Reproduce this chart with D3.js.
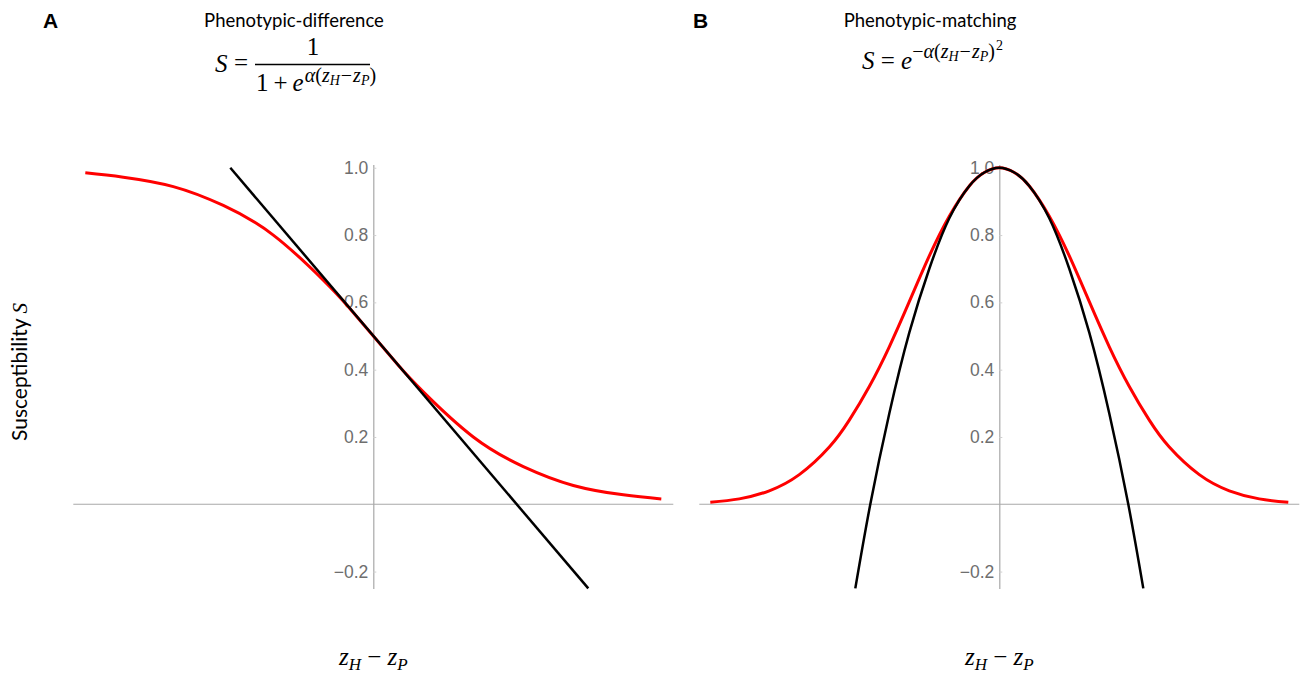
<!DOCTYPE html>
<html>
<head>
<meta charset="utf-8">
<script src="https://cdn.jsdelivr.net/npm/d3@7"></script>
<style>
  body { margin: 0; background: #fff; }
  svg { display: block; }
  .tick text { font-family: "Liberation Sans", Arial, sans-serif; }
</style>
</head>
<body>
<script>
// values (x in z_H - z_P units, S = susceptibility)
const diff_x = [-2.88, -2.5, -2.0, -1.5, -1.0, -0.5, -0.25, 0, 0.25, 0.5, 1.0, 1.5, 2.0, 2.5, 2.88];
const diff_s = [0.985, 0.972, 0.944, 0.888, 0.800, 0.666, 0.587, 0.5, 0.413, 0.334, 0.200, 0.112, 0.056, 0.028, 0.016];
const tangent_x = [-1.43, 2.15];
const tangent_s = [1.0, -0.25];

const match_x = [-2.89, -2.6, -2.3, -2.0, -1.7, -1.5, -1.3, -1.1, -0.9, -0.7, -0.5, -0.3, -0.15, 0,
                 0.15, 0.3, 0.5, 0.7, 0.9, 1.1, 1.3, 1.5, 1.7, 2.0, 2.3, 2.6, 2.89];
const match_s = [0.006, 0.016, 0.04, 0.088, 0.17, 0.25, 0.35, 0.468, 0.602, 0.738, 0.856, 0.946, 0.986, 1,
                 0.986, 0.946, 0.856, 0.738, 0.602, 0.468, 0.35, 0.25, 0.17, 0.088, 0.04, 0.016, 0.006];
const quad_x = [-1.44, -1.29, -1.1, -0.9, -0.7, -0.5, -0.3, -0.15, 0, 0.15, 0.3, 0.5, 0.7, 0.9, 1.1, 1.29, 1.44];
const quad_s = [-0.25, 0, 0.27, 0.51, 0.70, 0.85, 0.946, 0.986, 1, 0.986, 0.946, 0.85, 0.70, 0.51, 0.27, 0, -0.25];

const y_ticks = [-0.2, 0.2, 0.4, 0.6, 0.8, 1.0];

const W = 1301, H = 676;
const svg = d3.select("body").append("svg")
    .attr("width", W)
    .attr("height", H);

const zip = (xs, ss) => xs.map((x, i) => ({ x: x, s: ss[i] }));

const serif = "'Liberation Serif', 'DejaVu Serif', serif";
const sans = "Lato, 'Open Sans', sans-serif";

const y = d3.scaleLinear()
    .domain([-0.25, 1.01])
    .range([588.4, 164.4]);

// append a run of math text pieces: [text, italic, size, dy, dx]
const math = (el, parts) => parts.forEach(([t, it, size, dy, dx]) => {
    const s = el.append("tspan").text(t);
    if (it) s.style("font-style", "italic");
    if (size) s.style("font-size", size + "px");
    if (dy) s.attr("dy", dy);
    if (dx) s.attr("dx", dx);
});

function panel(x0, red, black, curved) {
    const x = d3.scaleLinear()
        .domain([-3, 3])
        .range([x0 - 300, x0 + 300]);
    const g = svg.append("g");

    // horizontal axis
    g.append("line")
        .attr("x1", x(-3)).attr("x2", x(3))
        .attr("y1", y(0)).attr("y2", y(0))
        .attr("stroke", "#a8a8a8")
        .attr("stroke-width", 1.2);

    // vertical axis
    const ax = g.append("g")
        .attr("transform", `translate(${x(0)},0)`)
        .call(d3.axisLeft(y)
            .tickValues(y_ticks)
            .tickFormat(d3.format(".1f"))
            .tickSizeInner(-3)
            .tickSizeOuter(0)
            .tickPadding(5));
    ax.select(".domain").attr("stroke", "#a8a8a8").attr("stroke-width", 1.2);
    ax.selectAll(".tick line").attr("stroke", "#cfcfcf");
    ax.selectAll(".tick text")
        .attr("fill", "#6e6e6e")
        .style("font-size", "17.5px");

    const line = d3.line()
        .x(d => x(d.x))
        .y(d => y(d.s))
        .curve(d3.curveNatural);

    g.append("path")
        .datum(red)
        .attr("fill", "none")
        .attr("stroke", "#ff0000")
        .attr("stroke-width", 3)
        .attr("d", line);

    g.append("path")
        .datum(black)
        .attr("fill", "none")
        .attr("stroke", "#000")
        .attr("stroke-width", 2.5)
        .attr("d", curved ? line : line.curve(d3.curveLinear));

    // x label z_H - z_P
    const lab = g.append("text")
        .attr("x", x(0))
        .attr("y", 665)
        .attr("text-anchor", "middle")
        .style("font-family", serif)
        .style("font-size", "25px");
    math(lab, [["z", 1], ["H", 1, 17, 5], [" − ", 0, 0, -5], ["z", 1], ["P", 1, 17, 5]]);
    return g;
}

panel(373.3, zip(diff_x, diff_s), zip(tangent_x, tangent_s), false);
panel(999.3, zip(match_x, match_s), zip(quad_x, quad_s), true);

// panel letters
svg.append("text").attr("x", 43).attr("y", 28)
    .style("font-family", "'Liberation Sans', Arial, sans-serif")
    .style("font-weight", "bold").style("font-size", "21px").text("A");
svg.append("text").attr("x", 693).attr("y", 28)
    .style("font-family", "'Liberation Sans', Arial, sans-serif")
    .style("font-weight", "bold").style("font-size", "21px").text("B");

// titles
svg.append("text").attr("x", 294).attr("y", 27).attr("text-anchor", "middle")
    .style("font-family", sans).style("font-size", "18.5px").text("Phenotypic-difference");
svg.append("text").attr("x", 930).attr("y", 27).attr("text-anchor", "middle")
    .style("font-family", sans).style("font-size", "18.5px").text("Phenotypic-matching");

// formula A
const fa = svg.append("g").style("font-family", serif).style("font-size", "25px");
fa.append("text").attr("x", 215).attr("y", 72).style("font-style", "italic").text("S");
fa.append("text").attr("x", 234).attr("y", 71).text("=");
fa.append("text").attr("x", 313).attr("y", 55).attr("text-anchor", "middle").text("1");
fa.append("line").attr("x1", 255).attr("x2", 370).attr("y1", 64.5).attr("y2", 64.5)
    .attr("stroke", "#000").attr("stroke-width", 1.4);
const den = fa.append("text").attr("x", 256).attr("y", 91);
math(den, [["1"], ["+", 0, 0, 0, 5], ["e", 1, 0, 0, 5], ["α", 1, 20, -9, 1], ["(", 0, 20], ["z", 1, 20],
           ["H", 1, 14, 3], ["−", 0, 20, -3, 1], ["z", 1, 20, 0, 1], ["P", 1, 14, 3], [")", 0, 20, -3]]);

// formula B
const fb = svg.append("text").attr("x", 862).attr("y", 69)
    .style("font-family", serif).style("font-size", "25px");
math(fb, [["S", 1], [" = "], ["e", 1], ["−", 0, 20, -11], ["α", 1, 20], ["(", 0, 20], ["z", 1, 20],
          ["H", 1, 14, 3], ["−", 0, 20, -3, 1], ["z", 1, 20, 0, 1], ["P", 1, 14, 3], [")", 0, 20, -3], ["2", 0, 14, -8, 1]]);

// y label
const yl = svg.append("text")
    .attr("transform", "translate(27,372) rotate(-90)")
    .attr("text-anchor", "middle")
    .style("font-family", sans)
    .style("font-size", "21px");
yl.append("tspan").text("Susceptibility ");
yl.append("tspan").style("font-family", serif).style("font-style", "italic").text("S");
</script>
</body>
</html>
